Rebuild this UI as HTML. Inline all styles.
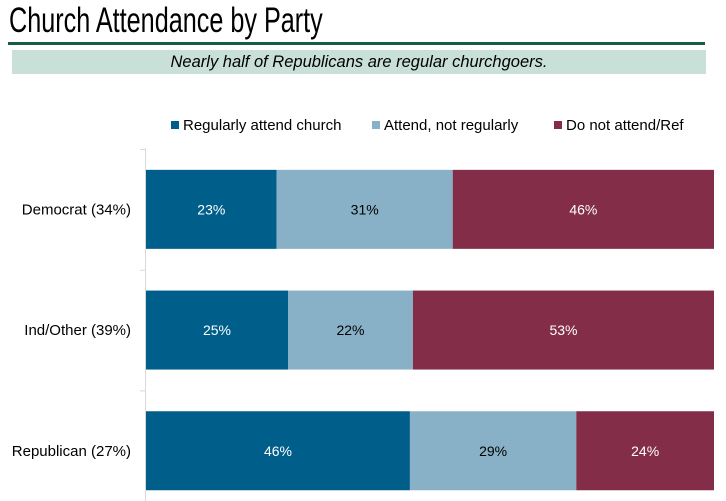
<!DOCTYPE html>
<html><head><meta charset="utf-8"><style>
body{margin:0;width:726px;height:501px;background:#fff;overflow:hidden;font-family:"Liberation Sans",sans-serif;position:relative}
#title{position:absolute;left:9px;top:1px;font-size:35px;color:#000;white-space:nowrap;transform:scaleX(0.72);transform-origin:0 0}
#rule{position:absolute;left:8px;top:42px;width:697px;height:3px;background:#135e48}
#sub{position:absolute;left:12px;top:50px;width:694px;height:24px;background:#c8e0d8;text-align:center;font-style:italic;font-size:16.5px;line-height:24px}
</style></head><body>
<div id="title">Church Attendance by Party</div>
<div id="rule"></div>
<div id="sub">Nearly half of Republicans are regular churchgoers.</div>
<svg id="chart" width="726" height="501" style="position:absolute;left:0;top:0"></svg>
<script>
const categories=["Democrat (34%)","Ind/Other (39%)","Republican (27%)"];
const seriesNames=["Regularly attend church","Attend, not regularly","Do not attend/Ref"];
const regular=[23,25,46];
const notRegular=[31,22,29];
const notAttend=[46,53,24];
const colors=["#005e8a","#88b0c6","#832d49"];
const svg=document.getElementById('chart');
const NS="http://www.w3.org/2000/svg";
function mk(t,a){const e=document.createElementNS(NS,t);for(const k in a)e.setAttribute(k,a[k]);svg.appendChild(e);return e;}
const x0=146,xW=568,bandTop=149,band=120.7,barH=79;
function xs(v,tot){return v/tot*xW;}
function yBand(i){return bandTop+i*band;}
const ax=mk('line',{x1:145.5,y1:148,x2:145.5,y2:501,stroke:'#d9d9d9','stroke-width':1});


for(let i=0;i<=categories.length;i++){
 const t=mk('line',{x1:140,x2:146,y1:yBand(i)+0.5,y2:yBand(i)+0.5,stroke:'#d9d9d9'});
 
 
}
const series=[regular,notRegular,notAttend];
categories.forEach((c,i)=>{
 const y=yBand(i)+(band-barH)/2;
 const lab=mk('text',{x:131,y:y+barH/2+5,'text-anchor':'end','font-size':15,fill:'#000'});
 lab.textContent=c;
 
 
 const tot=series.reduce((s,a)=>s+a[i],0);
 let acc=0;
 series.forEach((s,j)=>{
  const x=x0+xs(acc,tot),w=xs(s[i],tot);
  const r=mk('rect',{x:x,y:y,width:w,height:barH,fill:colors[j]});
  
  
  const tx=mk('text',{x:x+w/2,y:y+barH/2+5,'text-anchor':'middle','font-size':14,fill:j==1?'#000':'#fff'});
  tx.textContent=s[i]+'%';
  
  
  acc+=s[i];
 });
});
const lx=[171,372,554];
seriesNames.forEach((n,j)=>{
 const r=mk('rect',{x:lx[j],y:121,width:8,height:8,fill:colors[j]});
 
 
 const t=mk('text',{x:lx[j]+12,y:130,'font-size':15,fill:'#000'});
 t.textContent=n;
 
 
});
</script>
</body></html>
